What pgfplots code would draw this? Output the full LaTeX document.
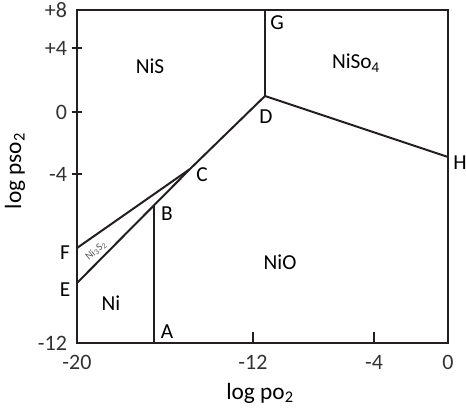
\documentclass[border=0pt]{standalone}
\usepackage{fontspec}
\setmainfont{Carlito}
\usepackage{pgfplots}
\pgfplotsset{compat=1.18}
\definecolor{ink}{RGB}{35,31,32}
\definecolor{txt}{RGB}{50,50,50}
\begin{document}
\begin{tikzpicture}
\begin{axis}[
  at={(0,0)}, anchor=south west,
  scale only axis, width=278.25pt, height=249.75pt,
  xmin=0, xmax=371, ymin=0, ymax=333,
  clip=false,
  axis line style={ink, line width=1.5pt},
  tick style={ink, line width=1.3pt},
  tick align=inside,
  tick pos=left,
  major tick length=8pt,
  ytick style={xshift=-4pt},
  xtick={176,297}, xticklabels={-12,-4},
  ytick={169,231,295}, yticklabels={-4,0,+4},
  extra x ticks={0,371}, extra x tick labels={-20,0},
  extra y ticks={0,333}, extra y tick labels={-12,+8},
  extra tick style={major tick length=0pt},
  tick label style={font=\fontsize{16.5}{18}\selectfont, text=txt},
  xticklabel style={yshift=-6pt},
  yticklabel style={xshift=-4pt},
  every node/.append style={text=txt},
]
\tikzset{bd/.style={ink, line width=1.5pt, mark=none}}
% phase boundaries (x, y in mapped diagram units)
\addplot[bd] coordinates {(77,0) (77,138)};      % A-B
\addplot[bd] coordinates {(0,60) (113,174)};     % E-B-C
\addplot[bd] coordinates {(0,95) (113,174)};     % F-C
\addplot[bd] coordinates {(113,174) (188,247)};  % C-D
\addplot[bd] coordinates {(188,247) (188,333)};  % D-G
\addplot[bd] coordinates {(188,247) (371,186)};  % D-H

\begin{scope}[font=\fontsize{16}{18}\selectfont]
\node at (axis cs:73,277) {NiS};
\node at (axis cs:279,280) {NiSo\textsubscript{4}};
\node at (axis cs:203,81) {NiO};
\node at (axis cs:34,40) {Ni};
\node at (axis cs:200,320) {G};
\node at (axis cs:189,226) {D};
\node at (axis cs:125,168) {C};
\node at (axis cs:90,129) {B};
\node at (axis cs:90,11) {A};
\node at (axis cs:-12,90) {F};
\node at (axis cs:-12,53) {E};
\node at (axis cs:383,180) {H};
\end{scope}
\begin{scope}[font=\fontsize{17.5}{19}\selectfont]
\node at (axis cs:183,-50) {log po\textsubscript{2}};
\node[rotate=90] at (axis cs:-62,172) {log pso\textsubscript{2}};
\end{scope}
\node[rotate=40, font=\fontsize{8}{9}\selectfont, text=black!65, inner sep=0pt] at (axis cs:19,92) {Ni\textsubscript{3}S\textsubscript{2}};
\end{axis}
\pgfresetboundingbox
\useasboundingbox (-57.75pt,-48.75pt) rectangle (291.75pt,257.25pt);
\end{tikzpicture}
\end{document}
